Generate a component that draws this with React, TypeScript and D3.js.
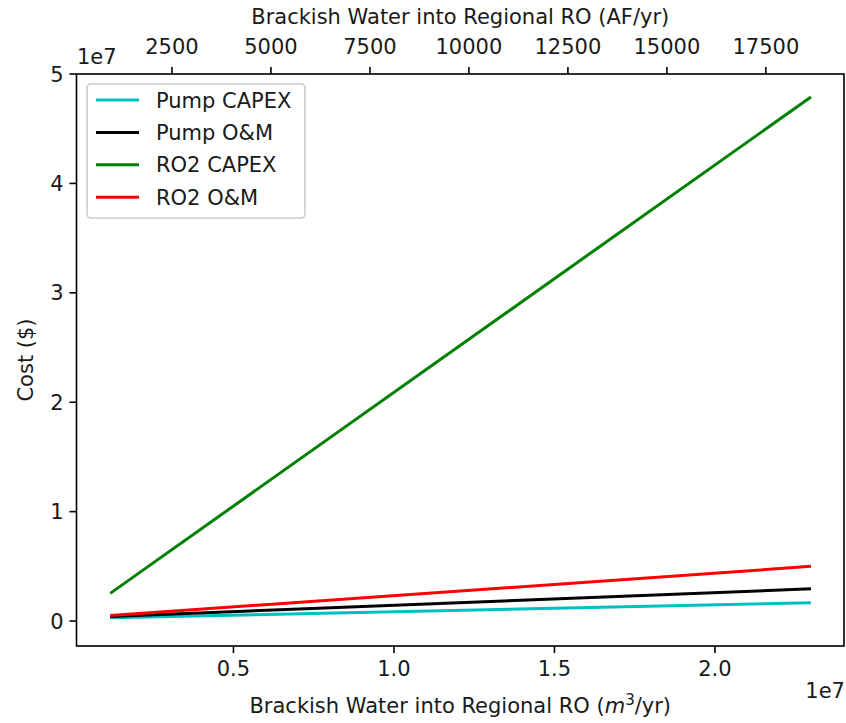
import React from "react";
import * as d3 from "d3";

const W = 846;
const H = 723;

// data (x in m^3/yr, costs in $)
const flowM3 = [1.16e6, 2.299e7];
const seriesNames = ["Pump CAPEX", "Pump O&M", "RO2 CAPEX", "RO2 O&M"];
const pumpCapex = [0.3e6, 1.67e6];
const pumpOM = [0.42e6, 2.95e6];
const ro2Capex = [2.53e6, 4.79e7];
const ro2OM = [0.5e6, 5.0e6];
const seriesColors = ["#00bfbf", "#000000", "#008000", "#ff0000"];

const xTicks = [0.5e7, 1.0e7, 1.5e7, 2.0e7];
const xTickLabels = ["0.5", "1.0", "1.5", "2.0"];
const yTicks = [0, 1e7, 2e7, 3e7, 4e7, 5e7];
const yTickLabels = ["0", "1", "2", "3", "4", "5"];
const topTicks = [2500, 5000, 7500, 10000, 12500, 15000, 17500];
const M3_PER_AF = 1233.48;

const FONT = "DejaVu Sans, sans-serif";

export default function App() {
  const left = 76.5, right = 844, top = 74, bottom = 646;
  const x = d3.scaleLinear().domain([0.011e7, 2.402e7]).range([left, right]);
  const y = d3.scaleLinear().domain([-0.228e7, 5.0e7]).range([bottom, top]);
  const xTop = d3
    .scaleLinear()
    .domain([0.011e7 / M3_PER_AF, 2.402e7 / M3_PER_AF])
    .range([left, right]);

  const allSeries = [pumpCapex, pumpOM, ro2Capex, ro2OM];
  const line = d3
    .line<[number, number]>()
    .x((d) => x(d[0]))
    .y((d) => y(d[1]));

  const txt = { fontFamily: FONT, fontSize: 21, fill: "#1a1a1a" } as const;

  return (
    <svg
      width={W}
      height={H}
      style={{ position: "absolute", left: 0, top: 0, background: "#fff" }}
    >
      <rect x={0} y={0} width={W} height={H} fill="#fff" />
      {/* lines */}
      <g>
        {allSeries.map((s, i) => (
          <path
            key={i}
            d={line(flowM3.map((v, j) => [v, s[j]] as [number, number])) || ""}
            fill="none"
            stroke={seriesColors[i]}
            strokeWidth={3}
          />
        ))}
      </g>
      {/* frame */}
      <rect
        x={left}
        y={top}
        width={right - left}
        height={bottom - top}
        fill="none"
        stroke="#000"
        strokeWidth={1.6}
      />
      {/* bottom axis */}
      {xTicks.map((t, i) => (
        <g key={"xb" + i}>
          <line x1={x(t)} x2={x(t)} y1={bottom} y2={bottom + 7} stroke="#000" strokeWidth={1.6} />
          <text {...txt} x={x(t)} y={676} textAnchor="middle">
            {xTickLabels[i]}
          </text>
        </g>
      ))}
      <text {...txt} x={845} y={698} textAnchor="end">
        1e7
      </text>
      <text {...txt} x={(left + right) / 2} y={713} textAnchor="middle">
        Brackish Water into Regional RO (
        <tspan fontStyle="italic">m</tspan>
        <tspan fontSize={15} dy={-8}>3</tspan>
        <tspan dy={8}>/yr)</tspan>
      </text>
      {/* top axis */}
      {topTicks.map((t, i) => (
        <g key={"xt" + i}>
          <line x1={xTop(t)} x2={xTop(t)} y1={top} y2={top - 7} stroke="#000" strokeWidth={1.6} />
          <text {...txt} x={xTop(t)} y={54} textAnchor="middle">
            {t}
          </text>
        </g>
      ))}
      <text {...txt} x={(left + right) / 2} y={24} textAnchor="middle">
        Brackish Water into Regional RO (AF/yr)
      </text>
      {/* left axis */}
      {yTicks.map((t, i) => (
        <g key={"y" + i}>
          <line x1={left - 7} x2={left} y1={y(t)} y2={y(t)} stroke="#000" strokeWidth={1.6} />
          <text {...txt} x={left - 13} y={y(t) + 7.5} textAnchor="end">
            {yTickLabels[i]}
          </text>
        </g>
      ))}
      <text {...txt} x={77} y={64}>
        1e7
      </text>
      <text {...txt} transform={`translate(33, ${(top + bottom) / 2}) rotate(-90)`} textAnchor="middle">
        Cost ($)
      </text>
      {/* legend */}
      <g>
        <rect
          x={87}
          y={84}
          width={218}
          height={134}
          rx={4}
          fill="#fff"
          fillOpacity={0.8}
          stroke="#cccccc"
          strokeWidth={1.6}
        />
        {seriesNames.map((n, i) => {
          const cy = 100 + i * 32.4;
          return (
            <g key={n}>
              <line x1={96} x2={139} y1={cy} y2={cy} stroke={seriesColors[i]} strokeWidth={3} />
              <text {...txt} x={156} y={cy + 7.5}>
                {n}
              </text>
            </g>
          );
        })}
      </g>
    </svg>
  );
}
